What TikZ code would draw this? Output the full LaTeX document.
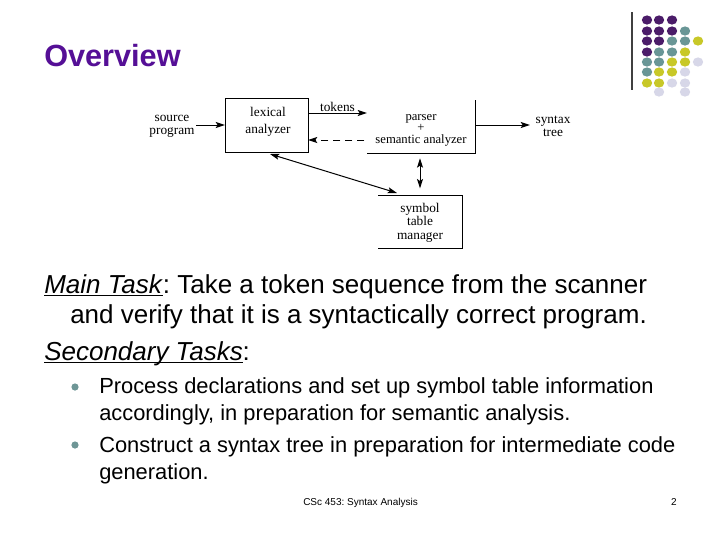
\documentclass[tikz,border=0pt]{standalone}
\usepackage{fontspec}
\setmainfont{Liberation Sans}
\newfontfamily\diagfont{Liberation Serif}
\usetikzlibrary{arrows.meta,calc}
\frenchspacing
\definecolor{titlepurple}{RGB}{85,15,150}
\definecolor{dotP}{RGB}{75,28,105}
\definecolor{dotT}{RGB}{105,150,150}
\definecolor{dotY}{RGB}{200,200,40}
\definecolor{dotL}{RGB}{215,215,232}
\definecolor{bulletc}{RGB}{110,150,150}
\newcommand\myul[1]{\setbox0\hbox{#1}\rlap{\rule[-2.4pt]{\wd0}{1.1pt}}\box0}
\tikzset{
  dlabel/.style={font=\diagfont\fontsize{10}{10}\selectfont, align=center, inner sep=1pt},
  dbox/.style={inner sep=0pt, outer sep=0pt},
  darrow/.style={line width=0.75pt, -{Stealth[length=7pt,width=4.5pt,inset=1.5pt]}},
  dbiarrow/.style={line width=0.75pt, {Stealth[length=7pt,width=4.5pt,inset=1.5pt]}-{Stealth[length=7pt,width=4.5pt,inset=1.5pt]}},
  dline/.style={line width=0.75pt},
  bodytext/.style={anchor=base west, inner sep=0pt, font=\fontsize{19.5}{23}\selectfont\frenchspacing},
  bullettext/.style={anchor=base west, inner sep=0pt, font=\fontsize{16.4}{20}\selectfont\frenchspacing},
}
\begin{document}
\begin{tikzpicture}[x=0.75pt,y=-0.75pt]
\useasboundingbox (0,0) rectangle (720,540);
\fill[white] (0,0) rectangle (720,540);

% title
\node[anchor=base west, inner sep=0pt, text=titlepurple, font=\fontsize{23}{27}\selectfont\bfseries] (title) at (44,66) {Overview};

% logo
\draw[line width=0.9pt, black!75] (632,12) -- (632,90);
\foreach \c/\x/\y in {
  dotP/647/20, dotP/659/20, dotP/672/20,
  dotP/647/31, dotP/659/31, dotP/672/31, dotT/685/31,
  dotP/647/41, dotP/659/41, dotT/672/41, dotT/685/41, dotY/698/41,
  dotP/647/52, dotT/659/52, dotT/672/52, dotY/685/52,
  dotT/647/62, dotT/659/62, dotY/672/62, dotY/685/62, dotL/698/62,
  dotT/647/72, dotY/659/72, dotY/672/72, dotL/685/72,
  dotY/647/83, dotY/659/83, dotL/672/83, dotL/685/83,
  dotL/659/92, dotL/685/92}
  \fill[\c] (\x,\y) ellipse [x radius=5.2, y radius=4.6];

% diagram boxes
\node[dbox, draw, line width=0.75pt, minimum width=62.25pt, minimum height=40.5pt] (lex) at (266.5,125) {};
\node[dlabel, font=\diagfont\fontsize{10}{12.75}\selectfont] (lextext) at (268,121.5) {lexical\\analyzer};
\node[dbox, minimum width=81.4pt, minimum height=39.75pt] (parser) at (421.25,126.5) {};
\node[dlabel, font=\diagfont\fontsize{9.5}{8.6}\selectfont] (parsertext) at (421,130) {parser\\+\\semantic analyzer};
\node[dbox, minimum width=63pt, minimum height=39.75pt] (sym) at (420,221.5) {};
\node[dlabel] (symtext) at (420,222.5) {symbol\\table\\manager};
\draw[dline] (parser.north east) -- (parser.south east) -- (parser.south west);
\draw[dline] (sym.north west) -- (sym.north east) -- (sym.south east) -- (sym.south west);

\node[dlabel] (src) at (172,126.5) {source\\program};
\node[dlabel] (tree) at (553,126.5) {syntax\\tree};

% connectors
\coordinate (ytok) at (0,113);
\coordinate (ydash) at (0,140);
\draw[darrow] (src.east |- lex.west) -- (lex.west);
\draw[darrow] (lex.east |- ytok) -- node[dlabel, above=0pt] (tokens) {tokens} (parser.west |- ytok);
\draw[darrow, dashed, dash pattern=on 5.5pt off 3.5pt] ([xshift=-2]parser.west |- ydash) -- (lex.east |- ydash);
\draw[darrow] (parser.east |- lex.west) -- ([xshift=-3]tree.west |- lex.west);
\draw[dbiarrow] ($(lex.south)+(3.5,2)$) -- ($(sym.north west)+(19,-2)$);
\draw[dbiarrow] ([yshift=-4pt]sym.north |- parser.south) -- ([yshift=5pt]sym.north);

% main text
\node[bodytext] (l1) at (44,293) {\myul{\textit{Main Task}}: Take a token sequence from the scanner};
\node[bodytext] (l2) at (70,323) {and verify that it is a syntactically correct program.};
\node[bodytext] (l3) at (44,360) {\myul{\textit{Secondary Tasks}}:};

\fill[bulletc] (75,387) circle [radius=3.6];
\fill[bulletc] (75,445) circle [radius=3.6];
\node[bullettext] (b1) at (99,393) {Process declarations and set up symbol table information};
\node[bullettext] (b1b) at (99,420) {accordingly, in preparation for semantic analysis.};
\node[bullettext] (b2) at (99,452) {Construct a syntax tree in preparation for intermediate code};
\node[bullettext] (b2b) at (99,479) {generation.};

% footer
\node[anchor=base west, inner sep=0pt, font=\fontsize{7.5}{9}\selectfont] (foot) at (303,505) {CSc 453: Syntax Analysis};
\node[anchor=base east, inner sep=0pt, font=\fontsize{7.5}{9}\selectfont] (page) at (677,505) {2};
\end{tikzpicture}
\end{document}
